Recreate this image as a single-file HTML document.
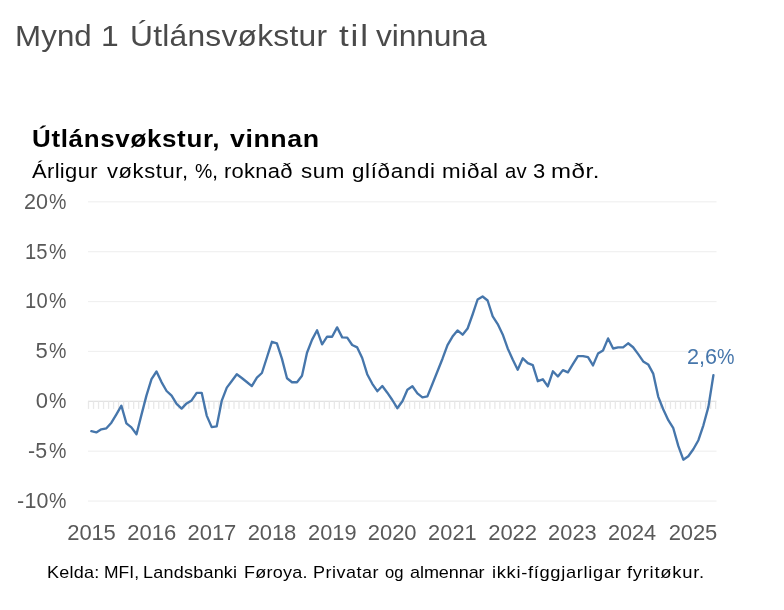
<!DOCTYPE html>
<html><head><meta charset="utf-8"><title>Mynd 1</title>
<style>
html,body{margin:0;padding:0;background:#fff;}
body{width:784px;height:610px;position:relative;overflow:hidden;font-family:"Liberation Sans",sans-serif;}
.ln{position:absolute;left:0;white-space:nowrap;}
.ln span{position:absolute;top:0;transform:scaleX(var(--sx));transform-origin:0 0;white-space:nowrap;}
svg{position:absolute;left:0;top:0;}
</style></head><body>
<svg width="784" height="610" viewBox="0 0 784 610">
<rect x="88" y="201.20" width="628.5" height="1.2" fill="#f0f0f0"/><rect x="88" y="251.08" width="628.5" height="1.2" fill="#f0f0f0"/><rect x="88" y="300.96" width="628.5" height="1.2" fill="#f0f0f0"/><rect x="88" y="350.84" width="628.5" height="1.2" fill="#f0f0f0"/><rect x="88" y="450.60" width="628.5" height="1.2" fill="#f0f0f0"/><rect x="88" y="500.48" width="628.5" height="1.2" fill="#f0f0f0"/><rect x="88" y="400.72" width="628.5" height="1.2" fill="#e0e0e0"/><rect x="87.85" y="401.32" width="1.3" height="7.6" fill="#e8e8e8"/><rect x="92.87" y="401.32" width="1.3" height="7.6" fill="#e8e8e8"/><rect x="97.88" y="401.32" width="1.3" height="7.6" fill="#e8e8e8"/><rect x="102.90" y="401.32" width="1.3" height="7.6" fill="#e8e8e8"/><rect x="107.92" y="401.32" width="1.3" height="7.6" fill="#e8e8e8"/><rect x="112.94" y="401.32" width="1.3" height="7.6" fill="#e8e8e8"/><rect x="117.95" y="401.32" width="1.3" height="7.6" fill="#e8e8e8"/><rect x="122.97" y="401.32" width="1.3" height="7.6" fill="#e8e8e8"/><rect x="127.99" y="401.32" width="1.3" height="7.6" fill="#e8e8e8"/><rect x="133.00" y="401.32" width="1.3" height="7.6" fill="#e8e8e8"/><rect x="138.02" y="401.32" width="1.3" height="7.6" fill="#e8e8e8"/><rect x="143.04" y="401.32" width="1.3" height="7.6" fill="#e8e8e8"/><rect x="148.05" y="401.32" width="1.3" height="7.6" fill="#e8e8e8"/><rect x="153.07" y="401.32" width="1.3" height="7.6" fill="#e8e8e8"/><rect x="158.09" y="401.32" width="1.3" height="7.6" fill="#e8e8e8"/><rect x="163.11" y="401.32" width="1.3" height="7.6" fill="#e8e8e8"/><rect x="168.12" y="401.32" width="1.3" height="7.6" fill="#e8e8e8"/><rect x="173.14" y="401.32" width="1.3" height="7.6" fill="#e8e8e8"/><rect x="178.16" y="401.32" width="1.3" height="7.6" fill="#e8e8e8"/><rect x="183.17" y="401.32" width="1.3" height="7.6" fill="#e8e8e8"/><rect x="188.19" y="401.32" width="1.3" height="7.6" fill="#e8e8e8"/><rect x="193.21" y="401.32" width="1.3" height="7.6" fill="#e8e8e8"/><rect x="198.22" y="401.32" width="1.3" height="7.6" fill="#e8e8e8"/><rect x="203.24" y="401.32" width="1.3" height="7.6" fill="#e8e8e8"/><rect x="208.26" y="401.32" width="1.3" height="7.6" fill="#e8e8e8"/><rect x="213.28" y="401.32" width="1.3" height="7.6" fill="#e8e8e8"/><rect x="218.29" y="401.32" width="1.3" height="7.6" fill="#e8e8e8"/><rect x="223.31" y="401.32" width="1.3" height="7.6" fill="#e8e8e8"/><rect x="228.33" y="401.32" width="1.3" height="7.6" fill="#e8e8e8"/><rect x="233.34" y="401.32" width="1.3" height="7.6" fill="#e8e8e8"/><rect x="238.36" y="401.32" width="1.3" height="7.6" fill="#e8e8e8"/><rect x="243.38" y="401.32" width="1.3" height="7.6" fill="#e8e8e8"/><rect x="248.39" y="401.32" width="1.3" height="7.6" fill="#e8e8e8"/><rect x="253.41" y="401.32" width="1.3" height="7.6" fill="#e8e8e8"/><rect x="258.43" y="401.32" width="1.3" height="7.6" fill="#e8e8e8"/><rect x="263.44" y="401.32" width="1.3" height="7.6" fill="#e8e8e8"/><rect x="268.46" y="401.32" width="1.3" height="7.6" fill="#e8e8e8"/><rect x="273.48" y="401.32" width="1.3" height="7.6" fill="#e8e8e8"/><rect x="278.50" y="401.32" width="1.3" height="7.6" fill="#e8e8e8"/><rect x="283.51" y="401.32" width="1.3" height="7.6" fill="#e8e8e8"/><rect x="288.53" y="401.32" width="1.3" height="7.6" fill="#e8e8e8"/><rect x="293.55" y="401.32" width="1.3" height="7.6" fill="#e8e8e8"/><rect x="298.56" y="401.32" width="1.3" height="7.6" fill="#e8e8e8"/><rect x="303.58" y="401.32" width="1.3" height="7.6" fill="#e8e8e8"/><rect x="308.60" y="401.32" width="1.3" height="7.6" fill="#e8e8e8"/><rect x="313.62" y="401.32" width="1.3" height="7.6" fill="#e8e8e8"/><rect x="318.63" y="401.32" width="1.3" height="7.6" fill="#e8e8e8"/><rect x="323.65" y="401.32" width="1.3" height="7.6" fill="#e8e8e8"/><rect x="328.67" y="401.32" width="1.3" height="7.6" fill="#e8e8e8"/><rect x="333.68" y="401.32" width="1.3" height="7.6" fill="#e8e8e8"/><rect x="338.70" y="401.32" width="1.3" height="7.6" fill="#e8e8e8"/><rect x="343.72" y="401.32" width="1.3" height="7.6" fill="#e8e8e8"/><rect x="348.73" y="401.32" width="1.3" height="7.6" fill="#e8e8e8"/><rect x="353.75" y="401.32" width="1.3" height="7.6" fill="#e8e8e8"/><rect x="358.77" y="401.32" width="1.3" height="7.6" fill="#e8e8e8"/><rect x="363.79" y="401.32" width="1.3" height="7.6" fill="#e8e8e8"/><rect x="368.80" y="401.32" width="1.3" height="7.6" fill="#e8e8e8"/><rect x="373.82" y="401.32" width="1.3" height="7.6" fill="#e8e8e8"/><rect x="378.84" y="401.32" width="1.3" height="7.6" fill="#e8e8e8"/><rect x="383.85" y="401.32" width="1.3" height="7.6" fill="#e8e8e8"/><rect x="388.87" y="401.32" width="1.3" height="7.6" fill="#e8e8e8"/><rect x="393.89" y="401.32" width="1.3" height="7.6" fill="#e8e8e8"/><rect x="398.90" y="401.32" width="1.3" height="7.6" fill="#e8e8e8"/><rect x="403.92" y="401.32" width="1.3" height="7.6" fill="#e8e8e8"/><rect x="408.94" y="401.32" width="1.3" height="7.6" fill="#e8e8e8"/><rect x="413.95" y="401.32" width="1.3" height="7.6" fill="#e8e8e8"/><rect x="418.97" y="401.32" width="1.3" height="7.6" fill="#e8e8e8"/><rect x="423.99" y="401.32" width="1.3" height="7.6" fill="#e8e8e8"/><rect x="429.01" y="401.32" width="1.3" height="7.6" fill="#e8e8e8"/><rect x="434.02" y="401.32" width="1.3" height="7.6" fill="#e8e8e8"/><rect x="439.04" y="401.32" width="1.3" height="7.6" fill="#e8e8e8"/><rect x="444.06" y="401.32" width="1.3" height="7.6" fill="#e8e8e8"/><rect x="449.07" y="401.32" width="1.3" height="7.6" fill="#e8e8e8"/><rect x="454.09" y="401.32" width="1.3" height="7.6" fill="#e8e8e8"/><rect x="459.11" y="401.32" width="1.3" height="7.6" fill="#e8e8e8"/><rect x="464.13" y="401.32" width="1.3" height="7.6" fill="#e8e8e8"/><rect x="469.14" y="401.32" width="1.3" height="7.6" fill="#e8e8e8"/><rect x="474.16" y="401.32" width="1.3" height="7.6" fill="#e8e8e8"/><rect x="479.18" y="401.32" width="1.3" height="7.6" fill="#e8e8e8"/><rect x="484.19" y="401.32" width="1.3" height="7.6" fill="#e8e8e8"/><rect x="489.21" y="401.32" width="1.3" height="7.6" fill="#e8e8e8"/><rect x="494.23" y="401.32" width="1.3" height="7.6" fill="#e8e8e8"/><rect x="499.24" y="401.32" width="1.3" height="7.6" fill="#e8e8e8"/><rect x="504.26" y="401.32" width="1.3" height="7.6" fill="#e8e8e8"/><rect x="509.28" y="401.32" width="1.3" height="7.6" fill="#e8e8e8"/><rect x="514.30" y="401.32" width="1.3" height="7.6" fill="#e8e8e8"/><rect x="519.31" y="401.32" width="1.3" height="7.6" fill="#e8e8e8"/><rect x="524.33" y="401.32" width="1.3" height="7.6" fill="#e8e8e8"/><rect x="529.35" y="401.32" width="1.3" height="7.6" fill="#e8e8e8"/><rect x="534.36" y="401.32" width="1.3" height="7.6" fill="#e8e8e8"/><rect x="539.38" y="401.32" width="1.3" height="7.6" fill="#e8e8e8"/><rect x="544.40" y="401.32" width="1.3" height="7.6" fill="#e8e8e8"/><rect x="549.41" y="401.32" width="1.3" height="7.6" fill="#e8e8e8"/><rect x="554.43" y="401.32" width="1.3" height="7.6" fill="#e8e8e8"/><rect x="559.45" y="401.32" width="1.3" height="7.6" fill="#e8e8e8"/><rect x="564.47" y="401.32" width="1.3" height="7.6" fill="#e8e8e8"/><rect x="569.48" y="401.32" width="1.3" height="7.6" fill="#e8e8e8"/><rect x="574.50" y="401.32" width="1.3" height="7.6" fill="#e8e8e8"/><rect x="579.52" y="401.32" width="1.3" height="7.6" fill="#e8e8e8"/><rect x="584.53" y="401.32" width="1.3" height="7.6" fill="#e8e8e8"/><rect x="589.55" y="401.32" width="1.3" height="7.6" fill="#e8e8e8"/><rect x="594.57" y="401.32" width="1.3" height="7.6" fill="#e8e8e8"/><rect x="599.58" y="401.32" width="1.3" height="7.6" fill="#e8e8e8"/><rect x="604.60" y="401.32" width="1.3" height="7.6" fill="#e8e8e8"/><rect x="609.62" y="401.32" width="1.3" height="7.6" fill="#e8e8e8"/><rect x="614.64" y="401.32" width="1.3" height="7.6" fill="#e8e8e8"/><rect x="619.65" y="401.32" width="1.3" height="7.6" fill="#e8e8e8"/><rect x="624.67" y="401.32" width="1.3" height="7.6" fill="#e8e8e8"/><rect x="629.69" y="401.32" width="1.3" height="7.6" fill="#e8e8e8"/><rect x="634.70" y="401.32" width="1.3" height="7.6" fill="#e8e8e8"/><rect x="639.72" y="401.32" width="1.3" height="7.6" fill="#e8e8e8"/><rect x="644.74" y="401.32" width="1.3" height="7.6" fill="#e8e8e8"/><rect x="649.75" y="401.32" width="1.3" height="7.6" fill="#e8e8e8"/><rect x="654.77" y="401.32" width="1.3" height="7.6" fill="#e8e8e8"/><rect x="659.79" y="401.32" width="1.3" height="7.6" fill="#e8e8e8"/><rect x="664.81" y="401.32" width="1.3" height="7.6" fill="#e8e8e8"/><rect x="669.82" y="401.32" width="1.3" height="7.6" fill="#e8e8e8"/><rect x="674.84" y="401.32" width="1.3" height="7.6" fill="#e8e8e8"/><rect x="679.86" y="401.32" width="1.3" height="7.6" fill="#e8e8e8"/><rect x="684.87" y="401.32" width="1.3" height="7.6" fill="#e8e8e8"/><rect x="689.89" y="401.32" width="1.3" height="7.6" fill="#e8e8e8"/><rect x="694.91" y="401.32" width="1.3" height="7.6" fill="#e8e8e8"/><rect x="699.92" y="401.32" width="1.3" height="7.6" fill="#e8e8e8"/><rect x="704.94" y="401.32" width="1.3" height="7.6" fill="#e8e8e8"/><rect x="709.96" y="401.32" width="1.3" height="7.6" fill="#e8e8e8"/><rect x="714.98" y="401.32" width="1.3" height="7.6" fill="#e8e8e8"/>
<polyline points="91.3,431.2 96.3,432.4 101.3,429.3 106.4,428.3 111.4,422.7 116.4,414.3 121.4,405.7 126.4,423.4 131.4,427.4 136.5,434.2 141.5,414.6 146.5,395.4 151.5,379.2 156.5,371.5 161.5,382.1 166.6,391.0 171.6,395.7 176.6,403.8 181.6,408.6 186.6,403.4 191.6,400.4 196.7,392.8 201.7,392.8 206.7,415.6 211.7,427.1 216.7,426.3 221.7,400.9 226.8,387.6 231.8,381.0 236.8,374.3 241.8,378.0 246.8,382.0 251.8,386.1 256.9,377.6 261.9,373.0 266.9,357.5 271.9,341.8 276.9,343.3 281.9,358.6 287.0,378.3 292.0,382.2 297.0,382.2 302.0,375.8 307.0,352.7 312.0,339.9 317.1,330.3 322.1,344.3 327.1,336.7 332.1,336.7 337.1,327.4 342.2,337.4 347.2,337.7 352.2,345.0 357.2,347.4 362.2,358.0 367.2,374.2 372.3,383.8 377.3,391.2 382.3,386.0 387.3,392.7 392.3,400.0 397.3,408.2 402.4,401.2 407.4,389.7 412.4,386.3 417.4,393.4 422.4,397.4 427.4,396.4 432.5,383.8 437.5,371.3 442.5,358.7 447.5,345.1 452.5,336.6 457.5,330.4 462.6,334.7 467.6,328.5 472.6,314.5 477.6,299.5 482.6,296.5 487.6,300.5 492.7,316.4 497.7,324.1 502.7,334.4 507.7,348.4 512.7,359.5 517.7,369.8 522.8,358.3 527.8,363.2 532.8,365.2 537.8,381.2 542.8,379.3 547.8,386.4 552.9,371.3 557.9,376.5 562.9,370.1 567.9,372.4 572.9,364.2 577.9,356.1 583.0,356.1 588.0,357.2 593.0,365.4 598.0,353.6 603.0,350.5 608.1,338.4 613.1,348.5 618.1,347.3 623.1,347.3 628.1,343.3 633.1,347.2 638.2,354.1 643.2,361.4 648.2,364.4 653.2,373.6 658.2,396.6 663.2,409.2 668.3,420.2 673.3,428.2 678.3,445.9 683.3,459.7 688.3,456.2 693.3,449.3 698.4,440.2 703.4,425.3 708.4,406.9 713.4,375.2" fill="none" stroke="#4676ab" stroke-width="2.35" stroke-linejoin="round" stroke-linecap="round"/>
</svg>
<div class="ln" id="h1" style="top:21px;font-size:30px;line-height:30px;font-weight:normal;color:#4a4a4a"><span style="left:15.21px;letter-spacing:0.10px;--sx:1.042">Mynd </span><span style="left:100.93px;letter-spacing:0.30px;--sx:1.060">1 </span><span style="left:129.93px;letter-spacing:0.21px;--sx:1.060">Útlánsvøkstur </span><span style="left:339.05px;letter-spacing:1.61px;--sx:1.166">til </span><span style="left:376.09px;letter-spacing:-0.13px;--sx:1.060">vinnuna</span></div>
<div class="ln" id="h2" style="top:128px;font-size:23px;line-height:23px;font-weight:bold;color:#000"><span style="left:32.40px;letter-spacing:0.59px;--sx:1.128">Útlánsvøkstur, </span><span style="left:229.73px;letter-spacing:0.49px;--sx:1.163">vinnan</span></div>
<div class="ln" id="h3" style="top:161px;font-size:20.5px;line-height:20.5px;font-weight:normal;color:#000"><span style="left:31.53px;letter-spacing:0.33px;--sx:1.070">Árligur </span><span style="left:107.35px;letter-spacing:0.57px;--sx:1.070">vøkstur,</span><span style="left:195.00px;letter-spacing:0.30px;--sx:0.948">%</span><span style="left:212.00px;letter-spacing:0.30px;--sx:1.070">, </span><span style="left:224.20px;letter-spacing:0.26px;--sx:1.070">roknað </span><span style="left:300.91px;letter-spacing:0.54px;--sx:1.091">sum </span><span style="left:352.00px;letter-spacing:0.62px;--sx:1.089">glíðandi </span><span style="left:441.71px;letter-spacing:0.60px;--sx:1.090">miðal </span><span style="left:504.50px;letter-spacing:0.19px;--sx:0.988">av </span><span style="left:533.32px;letter-spacing:0.30px;--sx:1.070">3 </span><span style="left:551.17px;letter-spacing:0.48px;--sx:1.171">mðr.</span></div>
<div class="ln" id="ft" style="top:564px;font-size:17px;line-height:17px;font-weight:normal;color:#000"><span style="left:46.80px;letter-spacing:0.21px;--sx:1.060">Kelda: </span><span style="left:103.86px;letter-spacing:0.06px;--sx:1.026">MFI, </span><span style="left:142.80px;letter-spacing:0.20px;--sx:1.060">Landsbanki </span><span style="left:244.30px;letter-spacing:0.22px;--sx:1.060">Føroya. </span><span style="left:312.80px;letter-spacing:0.45px;--sx:1.060">Privatar </span><span style="left:385.00px;letter-spacing:0.07px;--sx:0.978">og </span><span style="left:409.50px;letter-spacing:-0.07px;--sx:1.060">almennar </span><span style="left:492.12px;letter-spacing:0.64px;--sx:1.076">ikki-fíggjarligar </span><span style="left:627.46px;letter-spacing:0.66px;--sx:1.084">fyritøkur.</span></div>
<div class="ln" id="val" style="top:346px;font-size:22px;line-height:22px;font-weight:normal;color:#4676ab"><span style="left:686.79px;letter-spacing:-0.07px;--sx:0.982">2,6</span><span style="left:717.00px;letter-spacing:0.30px;--sx:0.894">%</span></div>
<div class="ln" id="y0" style="top:191px;font-size:22px;line-height:22px;font-weight:normal;color:#595959"><span style="left:23.93px;letter-spacing:-0.03px;--sx:0.979">20</span><span style="left:48.50px;letter-spacing:0.30px;--sx:0.889">%</span></div>
<div class="ln" id="y1" style="top:241px;font-size:22px;line-height:22px;font-weight:normal;color:#595959"><span style="left:24.73px;letter-spacing:0.14px;--sx:0.917">15</span><span style="left:48.50px;letter-spacing:0.30px;--sx:0.889">%</span></div>
<div class="ln" id="y2" style="top:290px;font-size:22px;line-height:22px;font-weight:normal;color:#595959"><span style="left:24.84px;letter-spacing:0.19px;--sx:0.917">10</span><span style="left:48.50px;letter-spacing:0.30px;--sx:0.889">%</span></div>
<div class="ln" id="y3" style="top:340px;font-size:22px;line-height:22px;font-weight:normal;color:#595959"><span style="left:35.43px;letter-spacing:0.30px;--sx:1.000">5</span><span style="left:48.50px;letter-spacing:0.30px;--sx:0.889">%</span></div>
<div class="ln" id="y4" style="top:390px;font-size:22px;line-height:22px;font-weight:normal;color:#595959"><span style="left:35.79px;letter-spacing:0.30px;--sx:1.000">0</span><span style="left:48.50px;letter-spacing:0.30px;--sx:0.889">%</span></div>
<div class="ln" id="y5" style="top:440px;font-size:22px;line-height:22px;font-weight:normal;color:#595959"><span style="left:28.38px;letter-spacing:0.13px;--sx:0.971">-5</span><span style="left:48.50px;letter-spacing:0.30px;--sx:0.889">%</span></div>
<div class="ln" id="y6" style="top:490px;font-size:22px;line-height:22px;font-weight:normal;color:#595959"><span style="left:16.62px;letter-spacing:0.25px;--sx:0.975">-10</span><span style="left:48.50px;letter-spacing:0.30px;--sx:0.889">%</span></div>
<div class="ln" id="x0" style="top:522px;font-size:22px;line-height:22px;font-weight:normal;color:#595959"><span style="left:67.33px;letter-spacing:-0.15px;--sx:1.000">2015</span></div>
<div class="ln" id="x1" style="top:522px;font-size:22px;line-height:22px;font-weight:normal;color:#595959"><span style="left:127.30px;letter-spacing:-0.00px;--sx:1.000">2016</span></div>
<div class="ln" id="x2" style="top:522px;font-size:22px;line-height:22px;font-weight:normal;color:#595959"><span style="left:187.54px;letter-spacing:-0.05px;--sx:1.000">2017</span></div>
<div class="ln" id="x3" style="top:522px;font-size:22px;line-height:22px;font-weight:normal;color:#595959"><span style="left:247.72px;letter-spacing:-0.10px;--sx:1.000">2018</span></div>
<div class="ln" id="x4" style="top:522px;font-size:22px;line-height:22px;font-weight:normal;color:#595959"><span style="left:308.28px;letter-spacing:0.04px;--sx:0.989">2019</span></div>
<div class="ln" id="x5" style="top:522px;font-size:22px;line-height:22px;font-weight:normal;color:#595959"><span style="left:367.87px;letter-spacing:-0.07px;--sx:1.000">2020</span></div>
<div class="ln" id="x6" style="top:522px;font-size:22px;line-height:22px;font-weight:normal;color:#595959"><span style="left:427.88px;letter-spacing:0.10px;--sx:0.989">2021</span></div>
<div class="ln" id="x7" style="top:522px;font-size:22px;line-height:22px;font-weight:normal;color:#595959"><span style="left:488.23px;letter-spacing:-0.07px;--sx:1.000">2022</span></div>
<div class="ln" id="x8" style="top:522px;font-size:22px;line-height:22px;font-weight:normal;color:#595959"><span style="left:548.19px;letter-spacing:0.08px;--sx:0.990">2023</span></div>
<div class="ln" id="x9" style="top:522px;font-size:22px;line-height:22px;font-weight:normal;color:#595959"><span style="left:608.33px;letter-spacing:-0.08px;--sx:0.988">2024</span></div>
<div class="ln" id="x10" style="top:522px;font-size:22px;line-height:22px;font-weight:normal;color:#595959"><span style="left:668.73px;letter-spacing:-0.14px;--sx:1.000">2025</span></div>
</body></html>
